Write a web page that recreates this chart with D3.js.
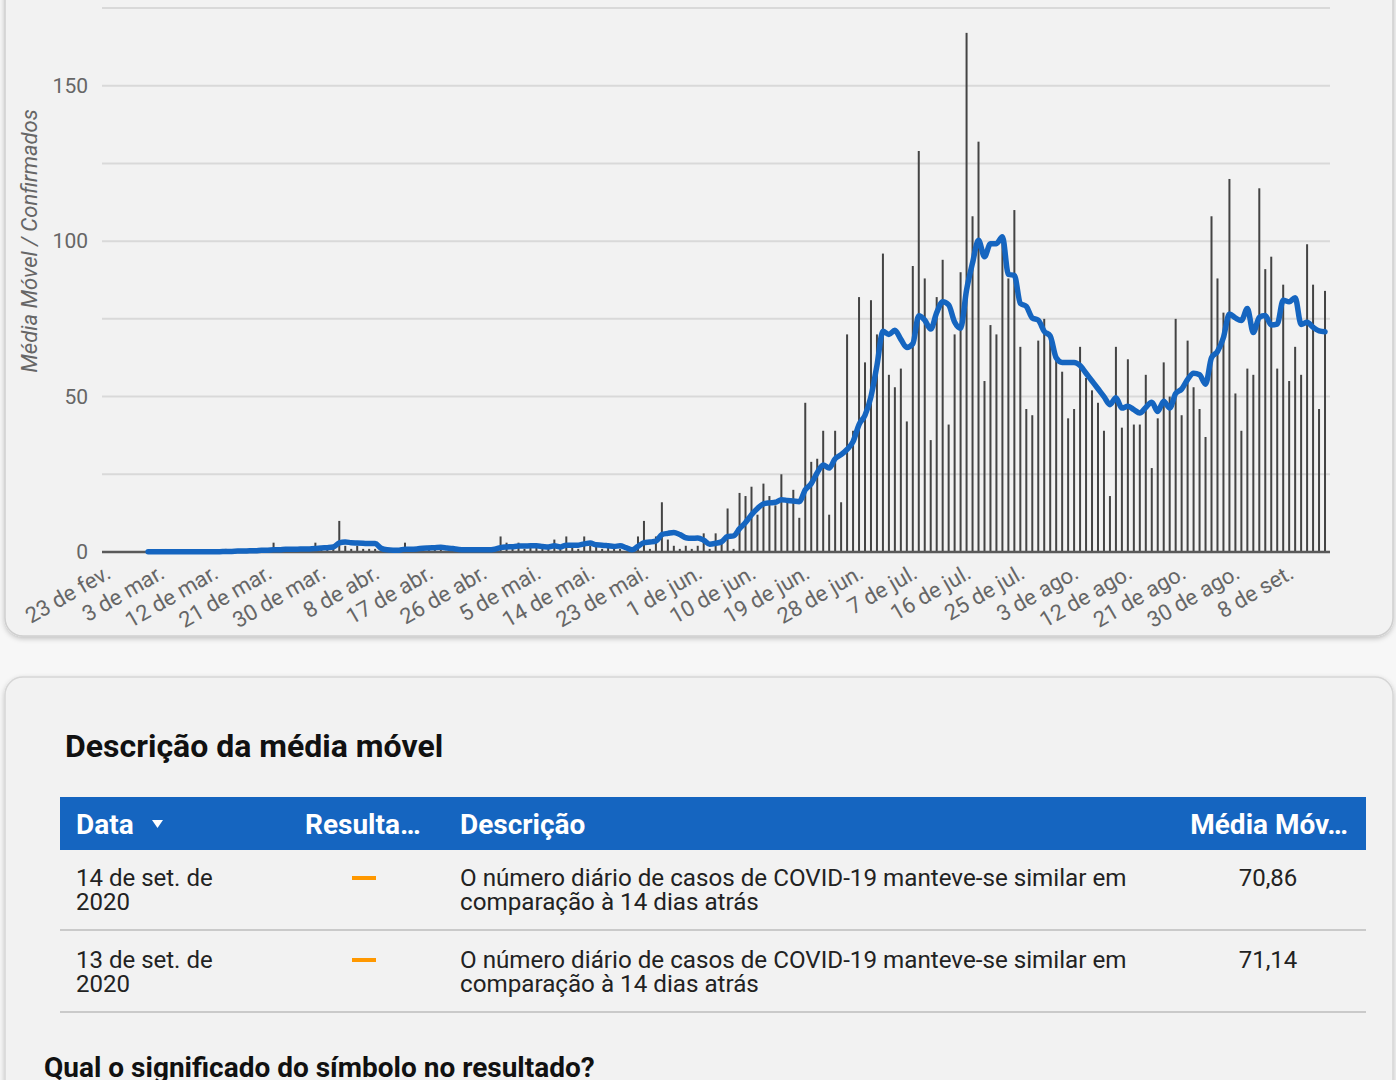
<!DOCTYPE html>
<html>
<head>
<meta charset="utf-8">
<script src="https://cdn.jsdelivr.net/npm/d3@7"></script>
<style>
  html, body { margin: 0; padding: 0; background: #f7f7f7; }
  svg { display: block; font-family: Roboto, "Noto Sans", sans-serif; }
</style>
</head>
<body>
<div id="chart"></div>
<script>
// casos confirmados por dia, de 23 de fev. a 14 de set. de 2020
const dailyCases = [
  0, 0, 0, 0, 0, 0, 0, 0, 0, 0,
  0, 0, 0, 0, 0, 0, 0, 0, 0, 0,
  1, 0, 0, 0, 1, 0, 1, 0, 3, 0,
  1, 0, 1, 1, 0, 3, 1, 1, 2, 10,
  2, 1, 2, 1, 1, 1, 0, 0, 1, 0,
  3, 1, 0, 1, 2, 1, 2, 0, 1, 0,
  1, 1, 0, 1, 0, 1, 5, 3, 1, 3,
  1, 2, 2, 2, 1, 4, 2, 5, 2, 1,
  5, 2, 2, 1, 2, 1, 1, 0, 0, 5,
  10, 1, 5, 16, 4, 2, 1, 2, 1, 2,
  6, 1, 6, 3, 14, 1, 19, 18, 21, 12,
  22, 18, 15, 25, 16, 20, 11, 48, 29, 30,
  39, 12, 39, 16, 70, 39, 82, 61, 81, 70,
  96, 57, 53, 59, 42, 92, 129, 88, 36, 82,
  94, 41, 70, 90, 167, 108, 132, 55, 73, 70,
  102, 88, 110, 66, 46, 44, 68, 75, 70, 62,
  58, 43, 46, 66, 56, 52, 48, 39, 18, 66,
  40, 62, 41, 41, 57, 27, 43, 61, 50, 75,
  44, 68, 53, 46, 37, 108, 88, 77, 120, 51,
  39, 59, 57, 117, 91, 95, 59, 86, 55, 66,
  57, 99, 86, 46, 84
];

// média móvel (linha azul)
const movingAvg = [
  null, null, null, null, null, null, null, 0.1, 0.1, 0.1,
  0.1, 0.1, 0.1, 0.1, 0.1, 0.1, 0.1, 0.1, 0.1, 0.1,
  0.2, 0.2, 0.3, 0.3, 0.4, 0.4, 0.6, 0.6, 0.7, 0.7,
  0.9, 0.9, 0.9, 1.0, 1.0, 1.1, 1.3, 1.4, 1.6, 2.9,
  3.2, 3.0, 2.9, 2.8, 2.7, 2.7, 1.2, 0.7, 0.6, 0.6,
  0.9, 0.9, 1.0, 1.2, 1.3, 1.4, 1.5, 1.3, 1.1, 0.8,
  0.7, 0.7, 0.7, 0.7, 0.7, 0.9, 1.4, 1.6, 1.7, 1.9,
  1.9, 2.0, 2.0, 1.8, 1.6, 2.0, 1.6, 2.2, 2.2, 2.2,
  2.6, 2.9, 2.3, 2.2, 2.0, 1.8, 2.0, 1.4, 0.7, 1.8,
  3.0, 3.2, 3.5, 5.6, 6.0, 6.3, 5.6, 4.6, 4.4, 4.5,
  3.8, 2.5, 2.8, 3.3, 5.0, 5.2, 7.5, 9.5, 12.0, 14.0,
  15.5, 15.8, 16.0, 16.8, 16.6, 16.4, 16.2, 20.0, 22.0, 25.5,
  28.0, 27.0, 30.0, 31.3, 33.0, 35.5, 41.0, 44.0, 50.0, 60.0,
  71.0, 70.0, 71.3, 68.4, 65.8, 67.0, 76.0, 74.6, 71.7, 77.0,
  80.5, 79.5, 74.0, 72.0, 84.3, 93.0, 100.3, 95.0, 99.2, 99.2,
  101.4, 89.3, 89.0, 80.0, 79.0, 75.3, 74.6, 71.0, 69.5, 62.5,
  61.0, 61.0, 61.0, 60.0, 57.5, 55.0, 52.5, 50.0, 47.4, 49.6,
  46.3, 46.9, 45.8, 44.7, 46.5, 48.2, 45.2, 48.5, 46.3, 51.0,
  52.4, 55.5, 57.5, 57.0, 54.0, 62.5, 64.5, 69.0, 76.6, 75.3,
  74.5, 78.3, 70.6, 75.5, 76.1, 73.0, 73.3, 81.0, 80.5, 81.8,
  73.2, 73.9, 72.3, 71.14, 70.86
];

const tickLabels = [
  '23 de fev.', '3 de mar.', '12 de mar.', '21 de mar.', '30 de mar.', '8 de abr.',
  '17 de abr.', '26 de abr.', '5 de mai.', '14 de mai.', '23 de mai.', '1 de jun.',
  '10 de jun.', '19 de jun.', '28 de jun.', '7 de jul.', '16 de jul.', '25 de jul.',
  '3 de ago.', '12 de ago.', '21 de ago.', '30 de ago.', '8 de set.'
];
const gridValues = [0, 25, 50, 75, 100, 125, 150, 175];
const yLabelValues = [0, 50, 100, 150];

// tabela
const tableHeaders = ['Data', 'Resulta…', 'Descrição', 'Média Móv…'];
const tableDates = [['14 de set. de', '2020'], ['13 de set. de', '2020']];
const tableDescriptions = [
  ['O número diário de casos de COVID-19 manteve-se similar em', 'comparação à 14 dias atrás'],
  ['O número diário de casos de COVID-19 manteve-se similar em', 'comparação à 14 dias atrás']
];
const tableValues = ['70,86', '71,14'];

const dates = d3.timeDay.range(new Date(2020, 1, 23), new Date(2020, 8, 15));

const W = 1396, H = 1080;
const svg = d3.select('#chart').append('svg').attr('width', W).attr('height', H);

// 1. cartões de fundo
const defs = svg.append('defs');
const f = defs.append('filter').attr('id', 'shadow').attr('x', '-5%').attr('y', '-5%')
  .attr('width', '110%').attr('height', '115%');
f.append('feDropShadow').attr('dx', 0).attr('dy', 2).attr('stdDeviation', 2.5)
  .attr('flood-color', '#000').attr('flood-opacity', 0.22);

svg.append('path')
  .attr('d', 'M5,-20 L5,618 A18,18 0 0 0 23,636 L1375,636 A18,18 0 0 0 1393,618 L1393,-20 Z')
  .attr('fill', '#f2f2f2').attr('stroke', '#cfcfcf').attr('stroke-width', 1.5)
  .attr('filter', 'url(#shadow)');

svg.append('path')
  .attr('d', 'M5,1100 L5,695 A18,18 0 0 1 23,677 L1375,677 A18,18 0 0 1 1393,695 L1393,1100 Z')
  .attr('fill', '#f2f2f2').attr('stroke', '#d6d6d6').attr('stroke-width', 1.5)
  .attr('filter', 'url(#shadow)');

// 2. escalas
const x = d3.scaleBand().domain(dates).range([103.3, 1328]).padding(0);
const y = d3.scaleLinear().domain([0, 175]).range([552, 8]);
const bw = x.bandwidth();
const cx = d => x(d) + bw / 2;

const chart = svg.append('g');

// 3. linhas de grade
chart.append('g')
  .selectAll('line')
  .data(gridValues)
  .join('line')
  .attr('x1', 102).attr('x2', 1330)
  .attr('y1', d => y(d)).attr('y2', d => y(d))
  .attr('stroke', '#d9d9d9').attr('stroke-width', 2);

// 4. eixo y
const yAxis = chart.append('g')
  .attr('transform', 'translate(102,0)')
  .call(d3.axisLeft(y).tickValues(yLabelValues).tickSize(0).tickPadding(14));
yAxis.select('.domain').remove();
yAxis.selectAll('text')
  .style('font-size', '21px').style('fill', '#666').style('font-family', 'Roboto');

chart.append('text')
  .attr('transform', 'translate(37,241) rotate(-90)')
  .attr('text-anchor', 'middle')
  .style('font-size', '22px').style('font-style', 'italic').style('fill', '#666')
  .text('Média Móvel / Confirmados');

// 5. barras diárias
chart.append('g')
  .selectAll('rect')
  .data(dailyCases.map((v, i) => ({ date: dates[i], v })).filter(d => d.v > 0))
  .join('rect')
  .attr('x', d => cx(d.date) - 1)
  .attr('width', 2)
  .attr('y', d => y(d.v))
  .attr('height', d => y(0) - y(d.v))
  .attr('fill', '#444');

// 6. eixo x
const xAxis = chart.append('g')
  .attr('transform', 'translate(0,552)')
  .call(d3.axisBottom(x)
    .tickValues(dates.filter((d, i) => i % 9 === 0))
    .tickFormat((d, i) => tickLabels[i])
    .tickSize(0));
xAxis.select('.domain').remove();
xAxis.selectAll('text')
  .attr('x', 0).attr('y', 0).attr('dy', 0)
  .attr('transform', 'translate(6,25) rotate(-30)')
  .attr('text-anchor', 'end')
  .style('font-size', '22px').style('fill', '#666').style('font-family', 'Roboto');

chart.append('line')
  .attr('x1', 102).attr('x2', 1330).attr('y1', y(0)).attr('y2', y(0))
  .attr('stroke', '#5a5a5a').attr('stroke-width', 2.5);

// 7. média móvel
const line = d3.line()
  .defined(d => d != null)
  .x((d, i) => cx(dates[i]))
  .y(d => y(d))
  .curve(d3.curveMonotoneX);

chart.append('path')
  .datum(movingAvg)
  .attr('d', line)
  .attr('fill', 'none')
  .attr('stroke', '#1565c0')
  .attr('stroke-width', 5.5)
  .attr('stroke-linejoin', 'round')
  .attr('stroke-linecap', 'round');

// 8. tabela
const table = svg.append('g');

table.append('text')
  .attr('x', 65).attr('y', 757)
  .style('font-size', '32px').style('font-weight', 'bold').style('fill', '#111')
  .text('Descrição da média móvel');

table.append('rect')
  .attr('x', 60).attr('y', 797).attr('width', 1306).attr('height', 53)
  .attr('fill', '#1565c0');

const headerX = [76, 305, 460, 1348];
table.append('g')
  .selectAll('text')
  .data(tableHeaders)
  .join('text')
  .attr('x', (d, i) => headerX[i])
  .attr('y', 834)
  .attr('text-anchor', (d, i) => i === 3 ? 'end' : 'start')
  .style('font-size', '28px').style('font-weight', 'bold').style('fill', '#fff')
  .text(d => d);

table.append('path')
  .attr('d', 'M152,820 L163,820 L157.5,828 Z')
  .attr('fill', '#fff');

const rowTop = [850, 932];
const rows = table.append('g')
  .selectAll('g')
  .data(tableValues)
  .join('g')
  .attr('transform', (d, i) => `translate(0,${rowTop[i]})`);

rows.each(function (val, i) {
  const g = d3.select(this);
  g.selectAll('text.date')
    .data(tableDates[i])
    .join('text')
    .attr('class', 'date')
    .attr('x', 76).attr('y', (d, j) => 36 + j * 24)
    .style('font-size', '24px').style('fill', '#222')
    .text(d => d);
  g.append('rect')
    .attr('x', 352).attr('y', 26).attr('width', 24).attr('height', 4)
    .attr('fill', '#ff9800');
  g.selectAll('text.desc')
    .data(tableDescriptions[i])
    .join('text')
    .attr('class', 'desc')
    .attr('x', 460).attr('y', (d, j) => 36 + j * 24)
    .style('font-size', '24.2px').style('fill', '#222')
    .text(d => d);
  g.append('text')
    .attr('x', 1268).attr('y', 36)
    .attr('text-anchor', 'middle')
    .style('font-size', '24px').style('fill', '#222')
    .text(val);
  g.append('line')
    .attr('x1', 60).attr('x2', 1366).attr('y1', 80).attr('y2', 80)
    .attr('stroke', '#cacaca').attr('stroke-width', 2);
});

table.append('text')
  .attr('x', 44).attr('y', 1077)
  .style('font-size', '28px').style('font-weight', 'bold').style('fill', '#111')
  .text('Qual o significado do símbolo no resultado?');
</script>
</body>
</html>
